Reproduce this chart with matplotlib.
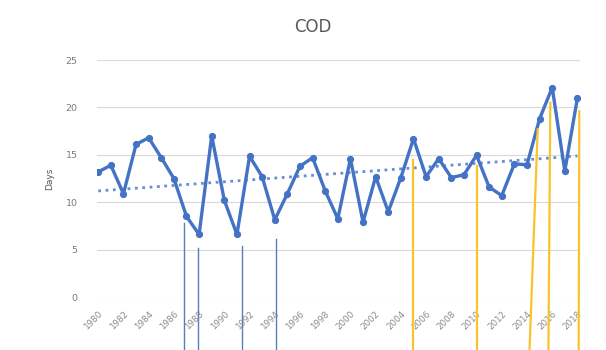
import numpy as np
import matplotlib.pyplot as plt

years = np.arange(1980, 2019)
days = [13.2, 13.9, 10.9, 16.1, 16.8, 14.7, 12.5, 8.5, 6.6, 17.0,
        10.2, 6.6, 14.85, 12.7, 8.15, 10.9, 13.8, 14.7, 11.2, 8.25,
        14.6, 7.9, 12.7, 9.0, 12.6, 16.7, 12.7, 14.6, 12.6, 12.9,
        14.95, 11.6, 10.7, 14.05, 13.95, 18.8, 22.1, 13.3, 21.0]

# hand-drawn marker strokes: (x_top, y_top, x_bottom)
blue_marks = [(1986.8, 7.8, 1986.8), (1987.9, 5.2, 1987.9),
              (1991.4, 5.4, 1991.4), (1994.1, 6.1, 1994.1)]
yellow_marks = [(2005.0, 14.5, 2005.0), (2010.0, 13.8, 2010.0),
                (2014.85, 17.7, 2014.2), (2015.85, 20.5, 2015.7),
                (2018.15, 19.6, 2018.1)]

blue = '#4472C4'
fig = plt.figure(figsize=(6.06, 3.5), dpi=100)
ax = fig.add_axes([0.160, 0.1514, 0.797, 0.677])

ax.plot(years, days, '-o', color=blue, lw=2.4, ms=4.2, zorder=3)

# linear trend
a1, a0 = np.polyfit(years, days, 1)
ax.plot(years, a0 + a1 * years, ':', color=blue, lw=2, alpha=0.8, zorder=2)

y_bottom = -5.7
for xt, yt, xb in blue_marks:
    ax.plot([xt, xb], [yt, y_bottom], color='#5a7fb8', lw=1.0, clip_on=False, zorder=4)
for xt, yt, xb in yellow_marks:
    ax.plot([xt, xb], [yt, y_bottom], color='#F7C52B', lw=1.6, clip_on=False, zorder=4)

ax.set_xlim(1979.9, 2018.2)
ax.set_ylim(0, 25)
ax.set_yticks(range(0, 26, 5))
ax.set_xticks(years[::2])
ax.set_xticklabels([str(y) for y in years[::2]], rotation=45, ha='right',
                   rotation_mode='anchor', fontsize=6.3, color='#8a8a8a')
ax.tick_params(axis='y', labelsize=6.8, colors='#7a7a7a', length=0, pad=14)
ax.tick_params(axis='x', length=0, pad=9)
ax.grid(axis='y', color='#d9d9d9', lw=0.8)
for s in ax.spines.values():
    s.set_visible(False)
ax.set_axisbelow(True)

ax.set_ylabel('Days', fontsize=6.5, color='#555555', labelpad=8)
fig.text(0.516, 0.922, 'COD', ha='center', va='center', fontsize=12,
         color='#595959')

fig.savefig('out.png', dpi=100)
